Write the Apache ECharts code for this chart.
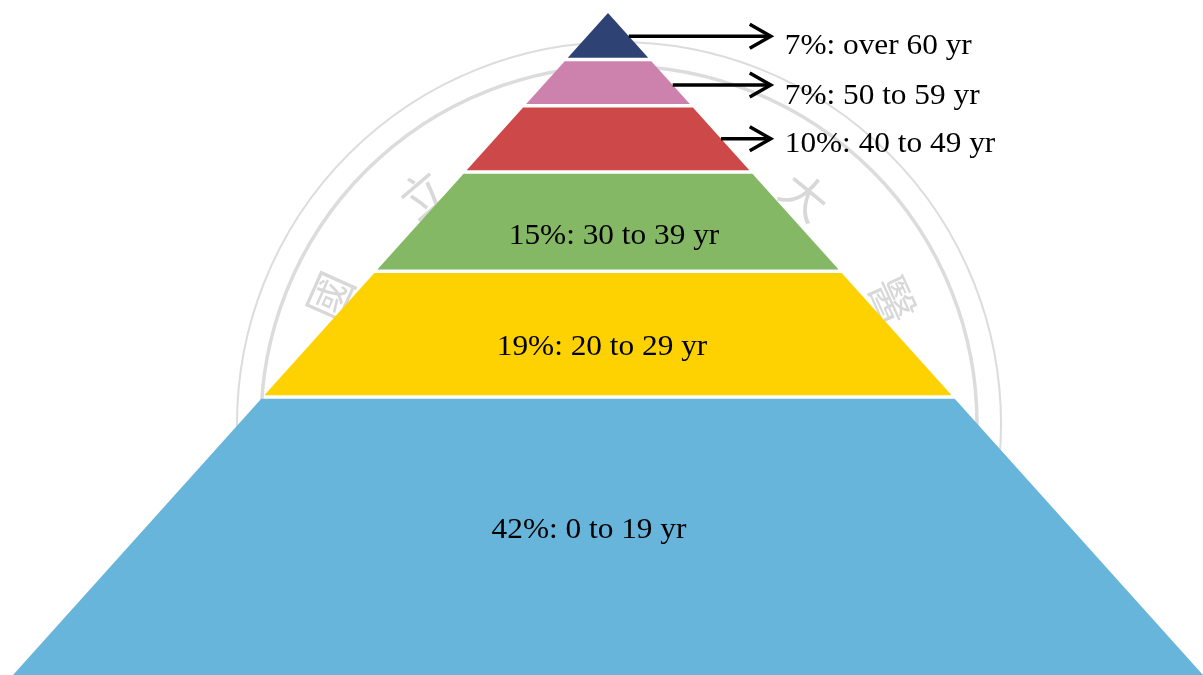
<!DOCTYPE html>
<html>
<head>
<meta charset="utf-8">
<script src="https://cdn.jsdelivr.net/npm/echarts@6/dist/echarts.min.js"></script>
<style>
html,body{margin:0;padding:0;background:#fff;}
#chart{width:1203px;height:675px;}
</style>
</head>
<body>
<div id="chart"></div>
<script>
// ---- data (bottom layer first) ----
const ageGroups = ['0 to 19 yr', '20 to 29 yr', '30 to 39 yr', '40 to 49 yr', '50 to 59 yr', 'over 60 yr'];
const shares = [42, 19, 15, 10, 7, 7];
const layerColors = ['#68B5DB', '#FDD200', '#84B864', '#CC4849', '#CD82AE', '#2E4374'];
const calloutLayer = [false, false, false, true, true, true];

// ---- layout / styling (pixel offsets, not data) ----
const insideLabelShift = [[-19, -6], [-6, 13], [6, 15], [0, 0], [0, 0], [0, 0]];
const calloutArrowShift = [0, 0, 0, 0, 2.5, 0];
const calloutTextShift = [0, 0, 0, 6, 13.5, 10];
const calloutTextX = 0.297;   // in x-axis units
const calloutArrowTipX = 0.2735;
const GAP_TOP = 1.8, GAP_BOTTOM = 1.6;
const FONT = '"Liberation Serif","Times New Roman",serif';

// cumulative extents
const layerData = [];
let acc = 0;
shares.forEach((s, i) => { layerData.push([i, acc, acc + s]); acc += s; });
const total = acc;

function renderLayer(params, api) {
  const i = api.value(0), lo = api.value(1), hi = api.value(2);
  const apex = api.coord([0, total]);
  const baseL = api.coord([-1, 0]);
  const baseR = api.coord([1, 0]);
  const span = baseL[1] - apex[1];
  const xL = y => apex[0] + (y - apex[1]) / span * (baseL[0] - apex[0]);
  const xR = y => apex[0] + (y - apex[1]) / span * (baseR[0] - apex[0]);
  let yBot = api.coord([0, lo])[1];
  let yTop = api.coord([0, hi])[1];
  if (lo > 0) yBot -= GAP_BOTTOM;
  if (hi < total) yTop += GAP_TOP;
  let pts;
  if (hi >= total) {
    pts = [[apex[0], apex[1]], [xR(yBot), yBot], [xL(yBot), yBot]];
  } else {
    pts = [[xL(yTop), yTop], [xR(yTop), yTop], [xR(yBot), yBot], [xL(yBot), yBot]];
  }
  const children = [{
    type: 'polygon',
    shape: { points: pts },
    style: { fill: layerColors[i], stroke: null }
  }];
  const label = shares[i] + '%: ' + ageGroups[i];
  const yMid = (api.coord([0, lo])[1] + api.coord([0, hi])[1]) / 2;
  if (!calloutLayer[i]) {
    const cx = api.coord([0, 0])[0] + insideLabelShift[i][0];
    children.push({
      type: 'text', x: cx, y: yMid + insideLabelShift[i][1], scaleX: 1.08,
      style: { text: label, x: 0, y: 0, align: 'center', verticalAlign: 'middle',
               fontFamily: FONT, fontSize: 29, fill: '#000' }
    });
  } else {
    const ya = yMid + calloutArrowShift[i];
    const x0 = xR(ya);
    const tip = api.coord([calloutArrowTipX, 0])[0];
    children.push({
      type: 'line', shape: { x1: x0, y1: ya, x2: tip - 2, y2: ya },
      style: { stroke: '#000', lineWidth: 3.5 }
    });
    children.push({
      type: 'polyline', shape: { points: [[tip - 21, ya - 12], [tip, ya], [tip - 21, ya + 12]] },
      style: { stroke: '#000', lineWidth: 3.5, fill: null, lineJoin: 'miter' }
    });
    children.push({
      type: 'text', x: api.coord([calloutTextX, 0])[0], y: yMid + calloutTextShift[i], scaleX: 1.08,
      style: { text: label, x: 0, y: 0, align: 'left', verticalAlign: 'middle',
               fontFamily: FONT, fontSize: 29, fill: '#000' }
    });
  }
  return { type: 'group', children };
}

// faint seal watermark in the background
const sealCx = 619, sealCy = 424;
const sealChars = [['國', 330, 296], ['立', 423, 194], ['大', 805, 196], ['醫', 893, 300]];
const graphics = [
  { type: 'circle', z: 0, shape: { cx: sealCx, cy: sealCy, r: 382 }, style: { fill: null, stroke: '#dcdcdc', lineWidth: 2 } },
  { type: 'circle', z: 0, shape: { cx: sealCx, cy: sealCy, r: 358 }, style: { fill: null, stroke: '#dcdcdc', lineWidth: 3.5 } }
];
sealChars.forEach(([ch, x, y]) => {
  const ang = Math.atan2(x - sealCx, sealCy - y);
  graphics.push({
    type: 'text', z: 0, x, y, rotation: -ang,
    style: { text: ch, x: 0, y: 0, align: 'center', verticalAlign: 'middle',
             fontFamily: '"Noto Sans CJK TC"', fontSize: 46, fontWeight: 'normal', fill: '#d8d8d8' }
  });
});

const chart = echarts.init(document.getElementById('chart'), null, { renderer: 'canvas' });
chart.setOption({
  backgroundColor: '#ffffff',
  animation: false,
  graphic: graphics,
  grid: { left: 13, top: 13, width: 1192, height: 662, containLabel: false },
  xAxis: { type: 'value', min: -1, max: 1, show: false },
  yAxis: { type: 'value', min: 0, max: total, show: false },
  series: [{
    type: 'custom',
    z: 5,
    renderItem: renderLayer,
    data: layerData,
    encode: { x: -1, y: [1, 2] },
    clip: false
  }]
});
</script>
</body>
</html>
